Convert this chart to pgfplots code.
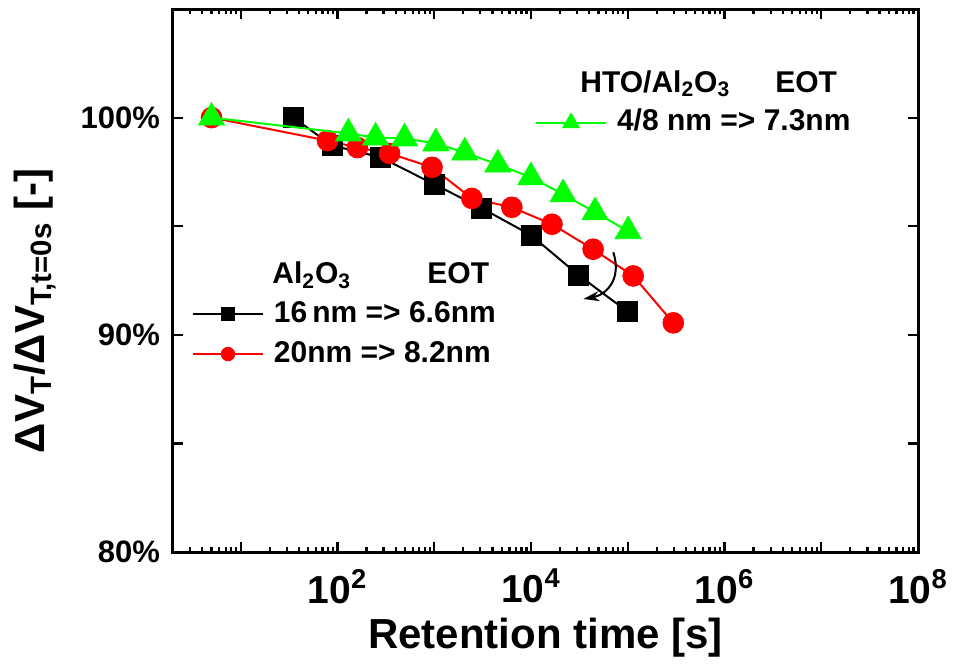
\documentclass[border=0pt]{standalone}
\usepackage{fontspec}
\setmainfont{Liberation Sans}
\usepackage{pgfplots}
\pgfplotsset{compat=1.18}
\usetikzlibrary{arrows.meta}
\definecolor{mygreen}{RGB}{0,255,0}
\definecolor{myred}{RGB}{255,0,0}

\begin{document}
\begin{tikzpicture}
\useasboundingbox (-86.5pt,-57pt) rectangle (390pt,276pt);
\begin{axis}[
  at={(0,0)}, anchor=south west,
  scale only axis, width=372.5pt, height=271.5pt,
  xmode=log, xmin=2, xmax=1e8, ymin=80, ymax=105,
  legend image code/.code={\draw[mark repeat=2,mark phase=2] plot coordinates {(0pt,0pt) (17.5pt,0pt) (35pt,0pt)};},
  legend image post style={every mark/.append style={scale=0.65}},
  legend cell align=left,
  xtick={1e1,1e2,1e3,1e4,1e5,1e6,1e7,1e8},
  xticklabels={,10\textsuperscript{2},,10\textsuperscript{4},,10\textsuperscript{6},,10\textsuperscript{8}},
  minor xtick={2,3,4,5,6,7,8,9,
    20,30,40,50,60,70,80,90,
    200,300,400,500,600,700,800,900,
    2e3,3e3,4e3,5e3,6e3,7e3,8e3,9e3,
    2e4,3e4,4e4,5e4,6e4,7e4,8e4,9e4,
    2e5,3e5,4e5,5e5,6e5,7e5,8e5,9e5,
    2e6,3e6,4e6,5e6,6e6,7e6,8e6,9e6,
    2e7,3e7,4e7,5e7,6e7,7e7,8e7,9e7},
  ytick={80,85,90,95,100,105},
  yticklabels={80\%,,90\%,,100\%,},
  tick align=inside,
  major tick length=4.8pt, minor tick length=2.5pt,
  axis line style={line width=1.5pt},
  every tick/.style={line width=1.1pt, black},
  xticklabel style={font=\bfseries\fontsize{19.5}{23}\selectfont, yshift=-5pt},
  yticklabel style={font=\bfseries\fontsize{15.5}{18}\selectfont, xshift=-3pt},
  xlabel={Retention time [s]},
  xlabel style={at={(axis description cs:0.5,-0.177)}, anchor=base, font=\bfseries\fontsize{21}{25}\selectfont},
  ylabel={ΔV\textsubscript{T}/ΔV\textsubscript{T,t=0s} [-]},
  ylabel style={at={(axis description cs:-0.185,0.444)}, anchor=center, font=\bfseries\fontsize{21}{25}\selectfont},
  legend style={draw=none, fill=none, inner sep=0pt, outer sep=0pt,
    at={(axis description cs:0.0255,0.464)}, anchor=north west,
    font=\bfseries\fontsize{15}{18}\selectfont,
    nodes={inner sep=0pt, text height=11pt, text depth=3pt},
    column sep=5pt, row sep=6pt},
]
\addplot[color=black, line width=1pt, mark=square*, mark size=5pt, mark options={line width=0.4pt}]
  coordinates {(35,100) (88,98.72) (280,98.17) (1000,96.93) (3100,95.83) (10000,94.59) (31000,92.75) (100000,91.06)};
\addlegendentry{16\,nm => 6.6nm}
\addplot[color=myred, line width=1pt, mark=*, mark size=5.2pt, mark options={line width=0.4pt}]
  coordinates {(5,100) (79,98.94) (161,98.62) (346,98.35) (950,97.71) (2450,96.28) (6350,95.87) (16500,95.09) (43900,93.94) (114000,92.71) (296000,90.55)};
\addlegendentry{20nm => 8.2nm}
\draw[line width=1pt, -{Stealth[length=8pt,width=5pt]}] (axis cs:7.1e4,93.8) .. controls (axis cs:8.8e4,92.52) and (axis cs:5.87e4,91.83) .. (axis cs:3.48e4,91.65);
\node[inner sep=0pt, anchor=base west, font=\bfseries\fontsize{15}{18}\selectfont] at (axis description cs:0.1329,0.4936) {Al\textsubscript{2}O\textsubscript{3}};
\node[inner sep=0pt, anchor=base west, font=\bfseries\fontsize{15}{18}\selectfont] at (axis description cs:0.341,0.4936) {EOT};
\node[inner sep=0pt, anchor=base west, font=\bfseries\fontsize{15}{18}\selectfont] at (axis description cs:0.5463,0.847) {HTO/Al\textsubscript{2}O\textsubscript{3}};
\node[inner sep=0pt, anchor=base west, font=\bfseries\fontsize{15}{18}\selectfont] at (axis description cs:0.808,0.847) {EOT};
\end{axis}
\begin{axis}[
  at={(0,0)}, anchor=south west,
  scale only axis, width=372.5pt, height=271.5pt,
  xmode=log, xmin=2, xmax=1e8, ymin=80, ymax=105,
  hide axis,
  legend image code/.code={\draw[mark repeat=2,mark phase=2] plot coordinates {(0pt,0pt) (17.5pt,0pt) (35pt,0pt)};},
  legend image post style={every mark/.append style={scale=0.65}},
  legend cell align=left,
  legend style={draw=none, fill=none, inner sep=0pt, outer sep=0pt,
    at={(axis description cs:0.486,0.816)}, anchor=north west,
    font=\bfseries\fontsize{15}{18}\selectfont,
    nodes={inner sep=0pt, text height=11pt, text depth=3pt},
    column sep=5pt, row sep=6pt},
]
\addplot[color=mygreen, line width=1pt, mark=triangle*, mark size=7.5pt, mark options={line width=0.4pt}]
  coordinates {(5,100) (130,99.27) (248,99.08) (494,99.04) (1040,98.81) (2070,98.39) (4550,97.84) (10000,97.25) (21500,96.47) (46000,95.64) (101000,94.77)};
\addlegendentry{4/8 nm => 7.3nm}
\end{axis}
\end{tikzpicture}
\end{document}
